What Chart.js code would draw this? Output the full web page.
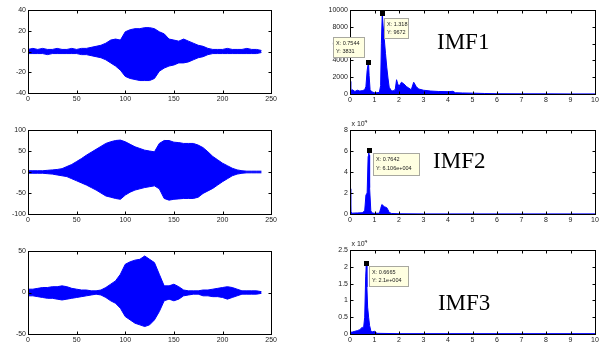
<!DOCTYPE html>
<html>
<head>
<meta charset="utf-8">
<script src="https://cdn.jsdelivr.net/npm/chart.js@4.4.1/dist/chart.umd.min.js"></script>
<style>
  html, body { margin: 0; padding: 0; background: #fff; }
  body { width: 600px; height: 349px; position: relative; overflow: hidden; }
  canvas { position: absolute; }
</style>
</head>
<body>
<script>
"use strict";

/* --- TIME SIGNALS (envelope) --- */

const t = [0,5,10,15,20,25,30,35,40,45,50,55,60,65,70,75,80,85,90,95,100,105,110,115,120,125,130,135,140,145,150,155,160,165,170,175,180,185,190,195,200,205,210,215,220,225,230,235,240];

const imf1_upper = [2,3,2,3,2,2,3,2,2,3,2,3,3,4,5,6,8,11,12,11,19,21,22,22,23,23,22,19,17,12,11,10,12,10,8,6,5,3,2,2,2,3,2,2,2,3,2,2,1];
const imf1_lower = [-2,-2,-2,-2,-3,-2,-2,-2,-2,-2,-2,-3,-3,-4,-5,-6,-8,-11,-14,-18,-24,-26,-27,-28,-28,-28,-26,-19,-16,-14,-13,-11,-11,-10,-8,-6,-5,-3,-2,-2,-2,-2,-2,-2,-2,-2,-2,-2,-1];

const imf2_upper = [3,3,3,3,4,5,6,8,13,18,25,32,40,47,54,61,68,72,75,76,72,66,60,56,52,50,48,68,75,75,71,70,68,68,68,64,58,48,37,29,21,15,9,5,3,2,2,2,2];
const imf2_lower = [-3,-3,-3,-3,-4,-5,-7,-9,-11,-16,-21,-26,-31,-37,-43,-50,-57,-60,-63,-65,-55,-48,-43,-40,-37,-35,-33,-40,-63,-67,-65,-64,-63,-63,-63,-60,-51,-45,-39,-31,-23,-16,-9,-5,-3,-2,-2,-2,-2];

const imf3_upper = [4,4,5,6,6,7,7,8,7,5,4,3,3,2,2,3,6,10,14,22,34,37,39,40,44,40,36,22,8,8,10,7,3,2,2,2,3,3,4,5,6,7,6,4,2,2,2,2,1];
const imf3_lower = [-4,-4,-5,-6,-7,-7,-8,-9,-8,-7,-6,-5,-4,-3,-2,-3,-6,-10,-13,-19,-29,-33,-37,-39,-41,-39,-33,-23,-10,-8,-10,-8,-4,-3,-2,-2,-4,-4,-5,-5,-6,-8,-6,-4,-2,-2,-2,-2,-1];

/* --- SPECTRA --- */

const f1 = [0,0.03,0.1,0.2,0.3,0.4,0.5,0.6,0.65,0.7,0.7544,0.78,0.82,0.9,1.0,1.1,1.2,1.25,1.28,1.318,1.35,1.4,1.45,1.5,1.55,1.6,1.7,1.8,1.85,1.9,1.95,2.0,2.1,2.2,2.3,2.4,2.5,2.6,2.7,2.8,3.0,3.3,3.6,4.0,4.2,4.3,4.6,5.0,5.5,6.0,7,8,9,10];
const p1 = [1500,400,500,300,450,350,400,500,900,2800,3831,2200,500,250,150,150,200,1000,6000,9672,8200,6500,4800,3200,1900,800,350,400,600,1700,1200,900,1400,1200,900,700,500,1400,900,600,450,350,300,280,320,150,120,100,60,30,20,15,10,10];

const f2 = [0,0.03,0.1,0.3,0.5,0.6,0.65,0.7,0.74,0.7642,0.78,0.8,0.85,0.9,1.0,1.2,1.25,1.3,1.35,1.4,1.5,1.55,1.6,1.7,2.0,3.0,10];
const p2 = [24000,2000,800,1000,1200,3000,18000,20000,55000,61060,56000,25000,3000,1000,600,800,5000,9000,8000,7000,6000,4000,1500,500,200,100,100];

const f3 = [0,0.02,0.1,0.2,0.3,0.4,0.5,0.55,0.6,0.64,0.6665,0.69,0.72,0.76,0.8,0.85,0.9,1.0,1.1,2,10];
const p3 = [1700,500,600,800,1000,1300,2000,1500,5000,17000,21000,14000,8000,5000,2500,1000,600,800,200,100,100];

/* --- DATA TIPS --- */

const tip1_x = [1.318, 0.7544];
const tip1_y = [9672, 3831];
const tip1_label = [['X: 1.318', 'Y: 9672'], ['X: 0.7544', 'Y: 3831']];
const tip2_x = [0.7642];
const tip2_y = [61060];
const tip2_label = [['X: 0.7642', 'Y: 6.106e+004']];
const tip3_x = [0.6665];
const tip3_y = [21000];
const tip3_label = [['X: 0.6665', 'Y: 2.1e+004']];

const BLUE = '#0000ff';
const TICK_FONT = { family: '"Liberation Sans", Arial, sans-serif', size: 7 };

function xy(xs, ys) {
  return xs.map((x, i) => ({ x: x, y: ys[i] }));
}

/* matlab style box, inward ticks, data tips and labels */
const matlabBox = {
  id: 'matlabBox',
  afterDraw(chart, args, opts) {
    const ctx = chart.ctx;
    const a = chart.chartArea;
    const xs = chart.scales.x;
    const ys = chart.scales.y;
    const L = Math.round(a.left) + 0.5, R = Math.round(a.right) + 0.5;
    const T = Math.round(a.top) + 0.5, B = Math.round(a.bottom) + 0.5;
    ctx.save();
    ctx.strokeStyle = '#000';
    ctx.lineWidth = 1;
    ctx.strokeRect(L, T, R - L, B - T);
    ctx.beginPath();
    xs.ticks.forEach(tk => {
      const px = Math.round(xs.getPixelForValue(tk.value)) + 0.5;
      ctx.moveTo(px, B); ctx.lineTo(px, B - 3);
      ctx.moveTo(px, T); ctx.lineTo(px, T + 3);
    });
    ys.ticks.forEach(tk => {
      const py = Math.round(ys.getPixelForValue(tk.value)) + 0.5;
      ctx.moveTo(L, py); ctx.lineTo(L + 3, py);
      ctx.moveTo(R, py); ctx.lineTo(R - 3, py);
    });
    ctx.stroke();

    if (opts.exponent) {
      ctx.fillStyle = '#222';
      ctx.font = '7px "Liberation Sans", Arial, sans-serif';
      ctx.textBaseline = 'alphabetic';
      ctx.fillText('x 10', L + 1, T - 5);
      ctx.font = '5px "Liberation Sans", Arial, sans-serif';
      ctx.fillText('4', L + 14, T - 8);
    }

    (opts.tips || []).forEach(tp => {
      const px = Math.round(xs.getPixelForValue(tp.x));
      const py = Math.round(ys.getPixelForValue(tp.y));
      const bx = px + tp.dx, by = py + tp.dy;
      ctx.fillStyle = '#ffffe1';
      ctx.fillRect(bx, by, tp.w, tp.h);
      ctx.strokeStyle = '#a8a8a0';
      ctx.strokeRect(bx + 0.5, by + 0.5, tp.w, tp.h);
      ctx.fillStyle = '#222';
      ctx.font = '5.5px "Liberation Sans", Arial, sans-serif';
      ctx.textBaseline = 'middle';
      ctx.fillText(tp.text[0], bx + 3, by + tp.h * 0.3);
      ctx.fillText(tp.text[1], bx + 3, by + tp.h * 0.72);
      ctx.fillStyle = '#000';
      ctx.fillRect(px - 2, py - 2, 5, 5);
    });

    if (opts.title) {
      ctx.fillStyle = '#000';
      ctx.font = '23px "Liberation Serif", "Times New Roman", serif';
      ctx.textBaseline = 'alphabetic';
      ctx.fillText(opts.title.text, xs.getPixelForValue(opts.title.x), ys.getPixelForValue(opts.title.y));
    }
    ctx.restore();
  }
};

function makePanel(box, datasets, xa, ya, extra) {
  const padL = 30, padT = 10, padR = 6, padB = 14;
  const cv = document.createElement('canvas');
  cv.width = box.w + padL + padR;
  cv.height = box.h + padT + padB;
  cv.style.left = (box.x - padL) + 'px';
  cv.style.top = (box.y - padT) + 'px';
  document.body.appendChild(cv);
  return new Chart(cv, {
    type: 'line',
    data: { datasets: datasets },
    options: {
      responsive: false,
      animation: false,
      events: [],
      layout: { padding: { top: padT, right: padR, left: 0, bottom: 0 } },
      elements: { point: { radius: 0 }, line: { tension: 0, borderWidth: 1 } },
      plugins: {
        legend: { display: false },
        tooltip: { enabled: false },
        matlabBox: extra || {}
      },
      scales: {
        x: {
          type: 'linear', min: xa.min, max: xa.max,
          ticks: { stepSize: xa.step, font: TICK_FONT, color: '#222', padding: 2, maxRotation: 0, autoSkip: false, callback: v => String(v) },
          grid: { display: false, drawTicks: false },
          border: { display: false },
          afterFit: s => { s.height = padB; }
        },
        y: {
          type: 'linear', min: ya.min, max: ya.max,
          ticks: { stepSize: ya.step, font: TICK_FONT, color: '#222', padding: 2, autoSkip: false, callback: ya.fmt || (v => String(v)) },
          grid: { display: false, drawTicks: false },
          border: { display: false },
          afterFit: s => { s.width = padL; }
        }
      }
    },
    plugins: [matlabBox]
  });
}

function envelope(up, low) {
  return [
    { data: xy(t, up), borderColor: BLUE, fill: false },
    { data: xy(t, low), borderColor: BLUE, backgroundColor: BLUE, fill: '-1' }
  ];
}

function spectrum(f, p) {
  return [{ data: xy(f, p), borderColor: BLUE, backgroundColor: BLUE, fill: 'origin' }];
}

function tips(xs, ys, labels, boxes) {
  return xs.map((x, i) => Object.assign({ x: x, y: ys[i], text: labels[i] }, boxes[i]));
}

const timeX = { min: 0, max: 250, step: 50 };
const freqX = { min: 0, max: 10, step: 1 };
const e4 = v => String(v / 10000);

/* --- LEFT COLUMN --- */
makePanel({ x: 28, y: 10, w: 245, h: 83 }, envelope(imf1_upper, imf1_lower), timeX, { min: -40, max: 40, step: 20 });
makePanel({ x: 28, y: 130, w: 245, h: 84 }, envelope(imf2_upper, imf2_lower), timeX, { min: -100, max: 100, step: 50 });
makePanel({ x: 28, y: 251, w: 245, h: 83 }, envelope(imf3_upper, imf3_lower), timeX, { min: -50, max: 50, step: 50 });

/* --- RIGHT COLUMN --- */
makePanel({ x: 350, y: 10, w: 245, h: 84 }, spectrum(f1, p1), freqX, { min: 0, max: 10000, step: 2000 }, {
  tips: tips(tip1_x, tip1_y, tip1_label, [{ dx: 2, dy: 5, w: 24, h: 20 }, { dx: -35, dy: -25, w: 31, h: 20 }]),
  title: { text: 'IMF1', x: 3.55, y: 5400 }
});
makePanel({ x: 350, y: 130, w: 245, h: 84 }, spectrum(f2, p2), freqX, { min: 0, max: 80000, step: 20000, fmt: e4 }, {
  exponent: true,
  tips: tips(tip2_x, tip2_y, tip2_label, [{ dx: 4, dy: 3, w: 46, h: 22 }]),
  title: { text: 'IMF2', x: 3.39, y: 43800 }
});
makePanel({ x: 350, y: 250, w: 245, h: 84 }, spectrum(f3, p3), freqX, { min: 0, max: 25000, step: 5000, fmt: e4 }, {
  exponent: true,
  tips: tips(tip3_x, tip3_y, tip3_label, [{ dx: 3, dy: 3, w: 39, h: 20 }]),
  title: { text: 'IMF3', x: 3.59, y: 7140 }
});
</script>
</body>
</html>
